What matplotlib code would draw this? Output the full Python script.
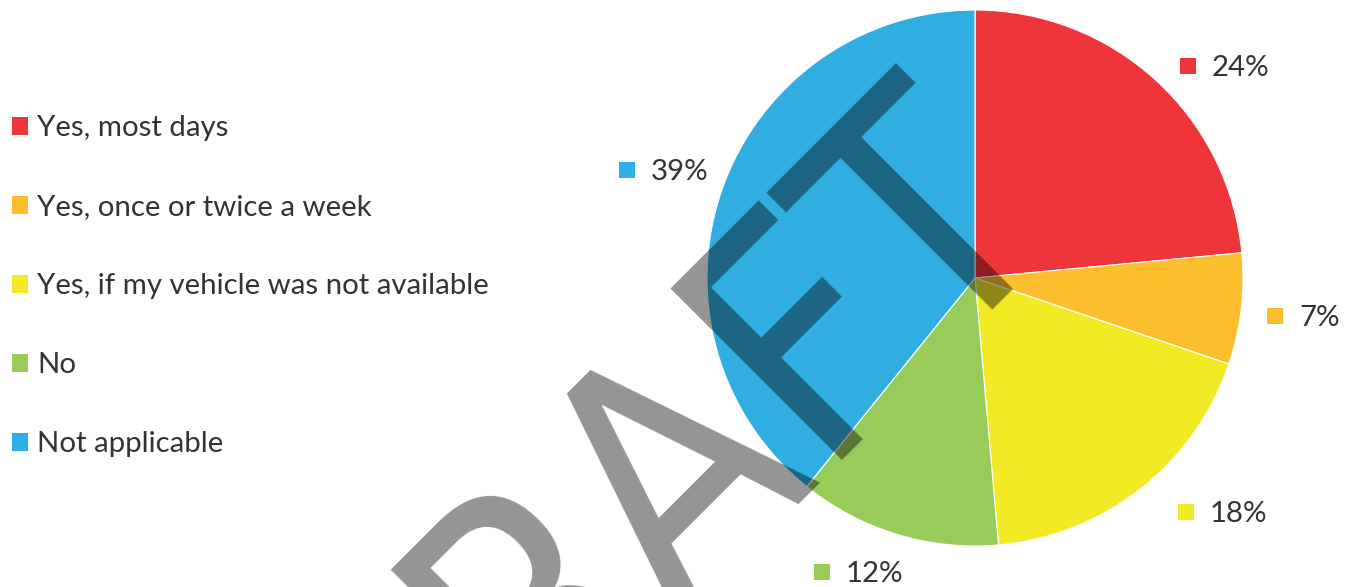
import matplotlib
matplotlib.use('Agg')
import matplotlib.pyplot as plt
from matplotlib import font_manager as fm
import numpy as np

# ---- data ----
categories = ["Yes, most days", "Yes, once or twice a week",
              "Yes, if my vehicle was not available", "No", "Not applicable"]
values = [23.5, 6.7, 18.4, 12.2, 39.2]
pct_labels = ["24%", "7%", "18%", "12%", "39%"]
colors = ["#EE3539", "#FDBE2E", "#F2EA24", "#99CB5B", "#30AEE1"]

plt.rcParams['font.family'] = ['Lato', 'DejaVu Sans']
TXT = '#333333'
FS = 21.2

W, H = 1345, 587
fig = plt.figure(figsize=(W / 100, H / 100), dpi=100)
ax = fig.add_axes([0, 0, 1, 1])

cx, cy, R = 975, H - 278, 268
wedges, _ = ax.pie(values, colors=colors, startangle=90, counterclock=False,
                   center=(cx, cy), radius=R,
                   wedgeprops=dict(edgecolor='white', linewidth=0.8))
ax.set_xlim(0, W)
ax.set_ylim(0, H)
ax.set_aspect('auto')
ax.axis('off')

# ---- outside labels (marker left x, marker centre y from top) ----
label_pos = [(1180, 66), (1267, 316), (1178, 512), (814, 572), (619, 170)]
sq = 16
for (lx, ly), lab, c in zip(label_pos, pct_labels, colors):
    ax.add_patch(plt.Rectangle((lx, H - ly - sq / 2), sq, sq, color=c, lw=0))
    ax.text(lx + 32, H - ly - 10, lab, fontsize=FS, color=TXT,
            ha='left', va='baseline')

# ---- legend ----
leg = ax.legend(wedges, categories, loc='upper left',
                bbox_to_anchor=(12 / W, 1 - 115 / H), frameon=False,
                fontsize=FS, handlelength=0.56, handleheight=0.56,
                handletextpad=0.3, labelspacing=1.80, borderpad=0,
                borderaxespad=0)
for t in leg.get_texts():
    t.set_color(TXT)
for h in leg.legend_handles:
    h.set_edgecolor('none')

# ---- watermark ----
s2 = np.sqrt(2)


def base_pt(u, base=1273):
    x = (base + u * s2) / 2
    y = (base - u * s2) / 2
    return x, H - y


fp_c = fm.FontProperties(family='DejaVu Sans', stretch='condensed', size=238)
x, y = base_pt(598)
ax.text(x, y, "DRAFT", fontproperties=fp_c, color='black', alpha=0.42,
        rotation=45, rotation_mode='anchor', ha='right', va='baseline',
        zorder=10)

fig.savefig('out.png', dpi=100)
